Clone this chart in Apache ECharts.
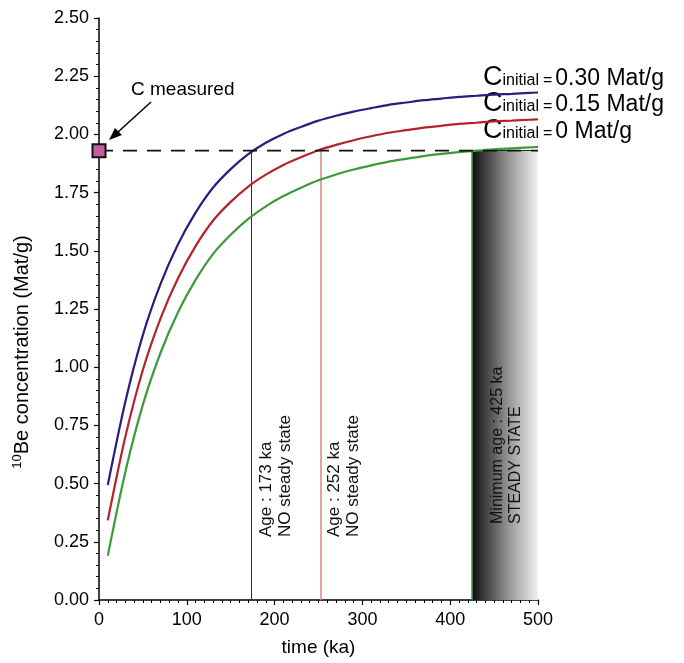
<!DOCTYPE html>
<html>
<head>
<meta charset="utf-8">
<script src="https://cdn.jsdelivr.net/npm/echarts@6/dist/echarts.min.js"></script>
<style>
html,body{margin:0;padding:0;background:#fff;}
#main{width:684px;height:663px;}
</style>
</head>
<body>
<div id="main"></div>
<script>
// time (ka)
var times = [10, 30, 50, 70, 90, 110, 130, 150, 170, 190, 210, 230, 250, 270, 290, 310, 330, 350, 370, 390, 410, 430, 450, 470, 490, 500];
// 10Be concentration (Mat/g)
var cInit0 = [0.19, 0.55, 0.839, 1.061, 1.236, 1.375, 1.487, 1.569, 1.637, 1.691, 1.735, 1.771, 1.803, 1.828, 1.849, 1.867, 1.883, 1.895, 1.907, 1.916, 1.924, 1.930, 1.936, 1.940, 1.944, 1.946];
var cInit015 = [0.342, 0.701, 0.989, 1.209, 1.382, 1.520, 1.630, 1.710, 1.776, 1.827, 1.869, 1.902, 1.932, 1.955, 1.975, 1.992, 2.007, 2.018, 2.029, 2.037, 2.045, 2.050, 2.056, 2.059, 2.063, 2.065];
var cInit030 = [0.494, 0.852, 1.139, 1.357, 1.528, 1.664, 1.772, 1.851, 1.915, 1.964, 2.002, 2.032, 2.059, 2.080, 2.098, 2.113, 2.127, 2.137, 2.147, 2.154, 2.161, 2.166, 2.171, 2.174, 2.178, 2.180];
var measured = 1.93;
var ages = [173, 252, 425];
var yTicks = ['0.00','0.25','0.50','0.75','1.00','1.25','1.50','1.75','2.00','2.25','2.50'];

var FONT = 'Liberation Sans';
var BLUE = '#2a1d80', RED = '#b5232a', GREEN = '#3c9a3a';

function pairs(ys){
    var out = [];
    for(var i=0;i<times.length;i++){
        out.push([times[i], ys[i]]);
    }
    return out;
}

function vline(x, color, width){
    return {
        silent: true,
        symbol: 'none',
        label: {show: false},
        lineStyle: {color: color, width: width, type: 'solid'},
        data: [[{coord: [x, 0]}, {coord: [x, measured]}]]
    };
}

function curve(name, ys, color){
    return {
        name: name,
        type: 'line',
        data: pairs(ys),
        showSymbol: false,
        smooth: 0.3,
        lineStyle: {color: color, width: 2.2},
        itemStyle: {color: color},
        z: 5
    };
}

var blue = curve('0.30', cInit030, BLUE);
blue.markLine = vline(ages[0], BLUE, 1);
var red = curve('0.15', cInit015, RED);
red.markLine = vline(ages[1], '#d98585', 1.5);
var green = curve('0', cInit0, GREEN);
green.markLine = vline(ages[2], GREEN, 1.5);
green.markArea = {
    silent: true,
    itemStyle: {
        color: new echarts.graphic.LinearGradient(0, 0, 1, 0, [
            {offset: 0, color: '#0d0d0d'},
            {offset: 0.5, color: '#8a8a8a'},
            {offset: 1, color: '#f2f2f2'}
        ])
    },
    data: [[{coord: [ages[2], 0]}, {coord: [500, measured]}]]
};

function labelLine(value, top){
    return {
        type: 'text',
        x: 483,
        y: top,
        style: {
            text: '{c|C}{s|initial}{e|=}{v|' + value + ' Mat/g}',
            align: 'left',
            verticalAlign: 'bottom',
            fill: '#000',
            fontFamily: FONT,
            rich: {
                c: {fontSize: 27, lineHeight: 27, verticalAlign: 'bottom', fontFamily: FONT},
                s: {fontSize: 16, lineHeight: 16, verticalAlign: 'bottom', padding: [0, 0, 2, 0], fontFamily: FONT},
                e: {fontSize: 16, lineHeight: 16, verticalAlign: 'bottom', padding: [0, 3, 2, 4], fontFamily: FONT},
                v: {fontSize: 23, lineHeight: 23, verticalAlign: 'bottom', padding: [0, 0, 1, 0], fontFamily: FONT}
            }
        }
    };
}

function vText(x, y, text, size){
    return {
        type: 'text',
        x: x,
        y: y,
        rotation: Math.PI / 2,
        style: {
            text: text,
            align: 'left',
            verticalAlign: 'top',
            fontSize: size,
            lineHeight: size + 2,
            fontFamily: FONT,
            fill: '#111'
        },
        z: 20
    };
}

var option = {
    animation: false,
    backgroundColor: '#fff',
    grid: {left: 99, right: 146, top: 18, bottom: 63, containLabel: false},
    xAxis: {
        type: 'value',
        min: 0,
        max: 500,
        interval: 100,
        name: 'time (ka)',
        nameLocation: 'middle',
        nameGap: 38,
        nameTextStyle: {fontSize: 19, color: '#000', fontFamily: FONT},
        axisLine: {show: true, onZero: false, lineStyle: {color: '#000', width: 1.5}},
        axisTick: {show: true, length: 5, lineStyle: {color: '#000', width: 1.2}},
        minorTick: {show: true, splitNumber: 10, length: 3, lineStyle: {color: '#000', width: 1}},
        axisLabel: {fontSize: 18, color: '#000', fontFamily: FONT, margin: 11},
        splitLine: {show: false},
        minorSplitLine: {show: false}
    },
    yAxis: {
        type: 'value',
        min: 0,
        max: 2.5,
        interval: 0.25,
        axisLine: {show: true, onZero: false, lineStyle: {color: '#000', width: 1.5}},
        axisTick: {show: true, length: 5, lineStyle: {color: '#000', width: 1.2}},
        minorTick: {show: true, splitNumber: 5, length: 3, lineStyle: {color: '#000', width: 1}},
        axisLabel: {
            fontSize: 18, color: '#000', fontFamily: FONT, margin: 10,
            formatter: function(v){ return yTicks[Math.round(v / 0.25)]; }
        },
        splitLine: {show: false},
        minorSplitLine: {show: false}
    },
    series: [
        green,
        red,
        blue,
        {
            name: 'measured',
            type: 'line',
            data: [[0, measured], [500, measured]],
            showSymbol: false,
            lineStyle: {color: '#111', width: 1.8, type: [14, 10]},
            markLine: {
                silent: true,
                symbol: 'none',
                label: {show: false},
                lineStyle: {color: '#222', width: 1, type: 'solid'},
                data: [[{coord: [ages[2], measured]}, {coord: [500, measured]}]]
            },
            z: 6
        },
        {
            name: 'C measured',
            type: 'scatter',
            data: [[0, measured]],
            symbol: 'rect',
            symbolSize: 13,
            clip: false,
            itemStyle: {color: '#c2609e', borderColor: '#111', borderWidth: 2, opacity: 1},
            z: 10
        }
    ],
    graphic: [
        {
            type: 'text',
            x: 22,
            y: 352,
            rotation: Math.PI / 2,
            style: {
                text: '{sup|10}{n|Be concentration (Mat/g)}',
                align: 'center',
                verticalAlign: 'middle',
                fill: '#000',
                fontFamily: FONT,
                rich: {
                    sup: {fontSize: 13, lineHeight: 13, verticalAlign: 'top', fontFamily: FONT},
                    n: {fontSize: 20, lineHeight: 22, fontFamily: FONT}
                }
            }
        },
        {
            type: 'text',
            x: 131,
            y: 90,
            style: {text: 'C measured', fontSize: 19, fontFamily: FONT, fill: '#000', align: 'left', verticalAlign: 'middle'}
        },
        {
            type: 'polyline',
            shape: {points: [[151, 102], [118, 132]]},
            style: {stroke: '#000', lineWidth: 1.5, fill: null}
        },
        {
            type: 'polygon',
            shape: {points: [[109, 140], [122, 135], [115, 128]]},
            style: {fill: '#000'}
        },
        labelLine('0.30', 91),
        labelLine('0.15', 117),
        labelLine('0', 144),
        vText(257, 537, 'Age : 173 ka\nNO steady state', 17),
        vText(325, 537, 'Age : 252 ka\nNO steady state', 17),
        vText(489, 524, 'Minimum age : 425 ka\nSTEADY STATE', 16)
    ]
};

var myChart = echarts.init(document.getElementById('main'));
myChart.setOption(option);
</script>
</body>
</html>
